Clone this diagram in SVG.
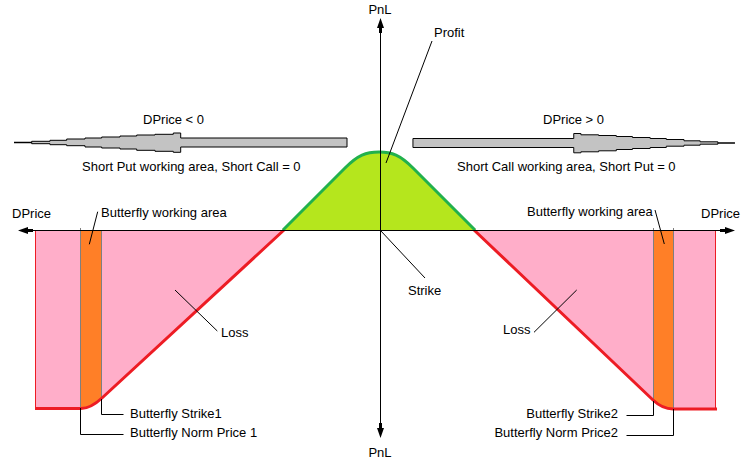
<svg xmlns="http://www.w3.org/2000/svg" xmlns:xlink="http://www.w3.org/1999/xlink" width="751" height="463" viewBox="0 0 751 463">
<style>
  text { font-family: "Liberation Sans", Arial, sans-serif; font-size: 13px; fill: #000; }
  .axis { stroke: #000; stroke-width: 1; fill: none; }
  .lead { stroke: #000; stroke-width: 1; fill: none; }
  .loss { fill: #FFAEC9; stroke: none; }
  .lossline { stroke: #ED1C24; stroke-width: 3; fill: none; }
  .edge { stroke: #ED1C24; stroke-width: 1; fill: none; }
  .bfly { fill: #FF7F27; stroke: none; }
  .grey { stroke: #7F7F7F; stroke-width: 1; fill: none; }
  .profit { fill: #B5E61D; stroke: none; }
  .profitline { stroke: #22B14C; stroke-width: 3; fill: none; }
  .dir { fill: #C3C3C3; stroke: #000; stroke-width: 1; }
</style>
<defs>
  <path id="ah" d="M0,0 L3.5,10 L1.5,10 L1.5,15 L-1.5,15 L-1.5,10 L-3.5,10 Z" fill="#000"/>
  <g id="dirArrow">
    <line x1="14" y1="142.5" x2="32" y2="142.5" stroke="#000" stroke-width="1.5"/>
    <polygon class="dir" points="31.7,141.3 50,141.3 50,140.3 66.7,140.3 66.7,139 85,139 85,138 101.7,138 101.7,137 120,137 120,136 136.7,136 136.7,135 155,135 155,134.3 173.3,134.3 173.3,133 180.7,133 180.7,138 347,138 347,147 180.7,147 180.7,152.3 173.3,152.3 173.3,151.3 155,151.3 155,150.3 136.7,150.3 136.7,149 120,149 120,148 101.7,148 101.7,147 85,147 85,145.7 66.7,145.7 66.7,144.7 50,144.7 50,143.7 31.7,143.7"/>
  </g>
</defs>

<rect width="751" height="463" fill="#fff"/>

<g id="loss-left">
  <path class="loss" d="M35,230 L283,230 L102,398 Q90.7,408.5 81,408.5 L35,408.5 Z"/>
  <path class="bfly" d="M80.5,230 L101.5,230 L101.5,398.5 Q90.7,408.5 80.5,408.5 Z"/>
  <line class="edge" x1="35.5" y1="230" x2="35.5" y2="408"/>
  <line class="grey" x1="80.5" y1="228" x2="80.5" y2="408"/>
  <line class="grey" x1="101.5" y1="230" x2="101.5" y2="399"/>
  <path class="lossline" d="M35,408.5 L81,408.5 Q90.7,408.5 102,398 L284,230"/>
</g>

<g id="loss-right">
  <path class="loss" d="M475,230 L716,230 L716,409 L673,409 Q662.4,409 653,400 Z"/>
  <path class="bfly" d="M653.5,230 L673.5,230 L673.5,409 Q662.4,409 653.5,400.5 Z"/>
  <line class="edge" x1="715.5" y1="230" x2="715.5" y2="409"/>
  <line class="grey" x1="653.5" y1="228" x2="653.5" y2="401"/>
  <line class="grey" x1="673.5" y1="228" x2="673.5" y2="409"/>
  <path class="lossline" d="M474,230 L653,400 Q662.4,409 673,409 L717,409"/>
</g>

<g id="profit">
  <path class="profit" d="M283,230 L345,168 C358,155 366,152 379,152 C392,152 400,155 413,168 L475,230 Z"/>
  <path class="profitline" d="M283,230 L345,168 C358,155 366,152 379,152 C392,152 400,155 413,168 L475,230"/>
</g>

<g id="axes">
  <line class="axis" x1="20" y1="230.5" x2="733" y2="230.5"/>
  <line class="axis" x1="380.5" y1="20" x2="380.5" y2="436"/>
  <use xlink:href="#ah" transform="translate(380.5,18)"/>
  <use xlink:href="#ah" transform="translate(380.5,438) rotate(180)"/>
  <use xlink:href="#ah" transform="translate(18,230.5) rotate(-90)"/>
  <use xlink:href="#ah" transform="translate(735,230.5) rotate(90)"/>
</g>

<g id="direction-left">
  <use xlink:href="#dirArrow"/>
</g>
<g id="direction-right">
  <use xlink:href="#dirArrow" transform="matrix(-0.967,0,0,1,748.5,0.5)"/>
</g>

<g id="connectors">
  <line class="lead" x1="432" y1="41" x2="386" y2="163"/>
  <line class="lead" x1="380.5" y1="230.5" x2="425" y2="278"/>
  <line class="lead" x1="97.7" y1="211.7" x2="89.3" y2="244.3"/>
  <line class="lead" x1="655" y1="210" x2="664.3" y2="244"/>
  <line class="lead" x1="175" y1="290" x2="217.3" y2="331"/>
  <line class="lead" x1="576.7" y1="290" x2="534" y2="332.3"/>
  <polyline class="lead" points="101.5,399 101.5,414.5 123.5,414.5"/>
  <polyline class="lead" points="80.5,408 80.5,434.5 123.5,434.5"/>
  <polyline class="lead" points="626.5,415.5 653.5,415.5 653.5,401"/>
  <polyline class="lead" points="626.5,435.5 673.5,435.5 673.5,409"/>
</g>

<g id="labels">
  <text x="380" y="14" text-anchor="middle">PnL</text>
  <text x="380" y="457" text-anchor="middle">PnL</text>
  <text x="434" y="37">Profit</text>
  <text x="143" y="124">DPrice &lt; 0</text>
  <text x="543" y="124">DPrice &gt; 0</text>
  <text x="82" y="171">Short Put working area, Short Call = 0</text>
  <text x="457" y="171">Short Call working area, Short Put = 0</text>
  <text x="12" y="218">DPrice</text>
  <text x="101" y="217">Butterfly working area</text>
  <text x="527" y="216">Butterfly working area</text>
  <text x="701" y="218">DPrice</text>
  <text x="408" y="295">Strike</text>
  <text x="221" y="337">Loss</text>
  <text x="503" y="334">Loss</text>
  <text x="130" y="418">Butterfly Strike1</text>
  <text x="130" y="437">Butterfly Norm Price 1</text>
  <text x="618" y="418" text-anchor="end">Butterfly Strike2</text>
  <text x="618" y="437" text-anchor="end">Butterfly Norm Price2</text>
</g>
</svg>
